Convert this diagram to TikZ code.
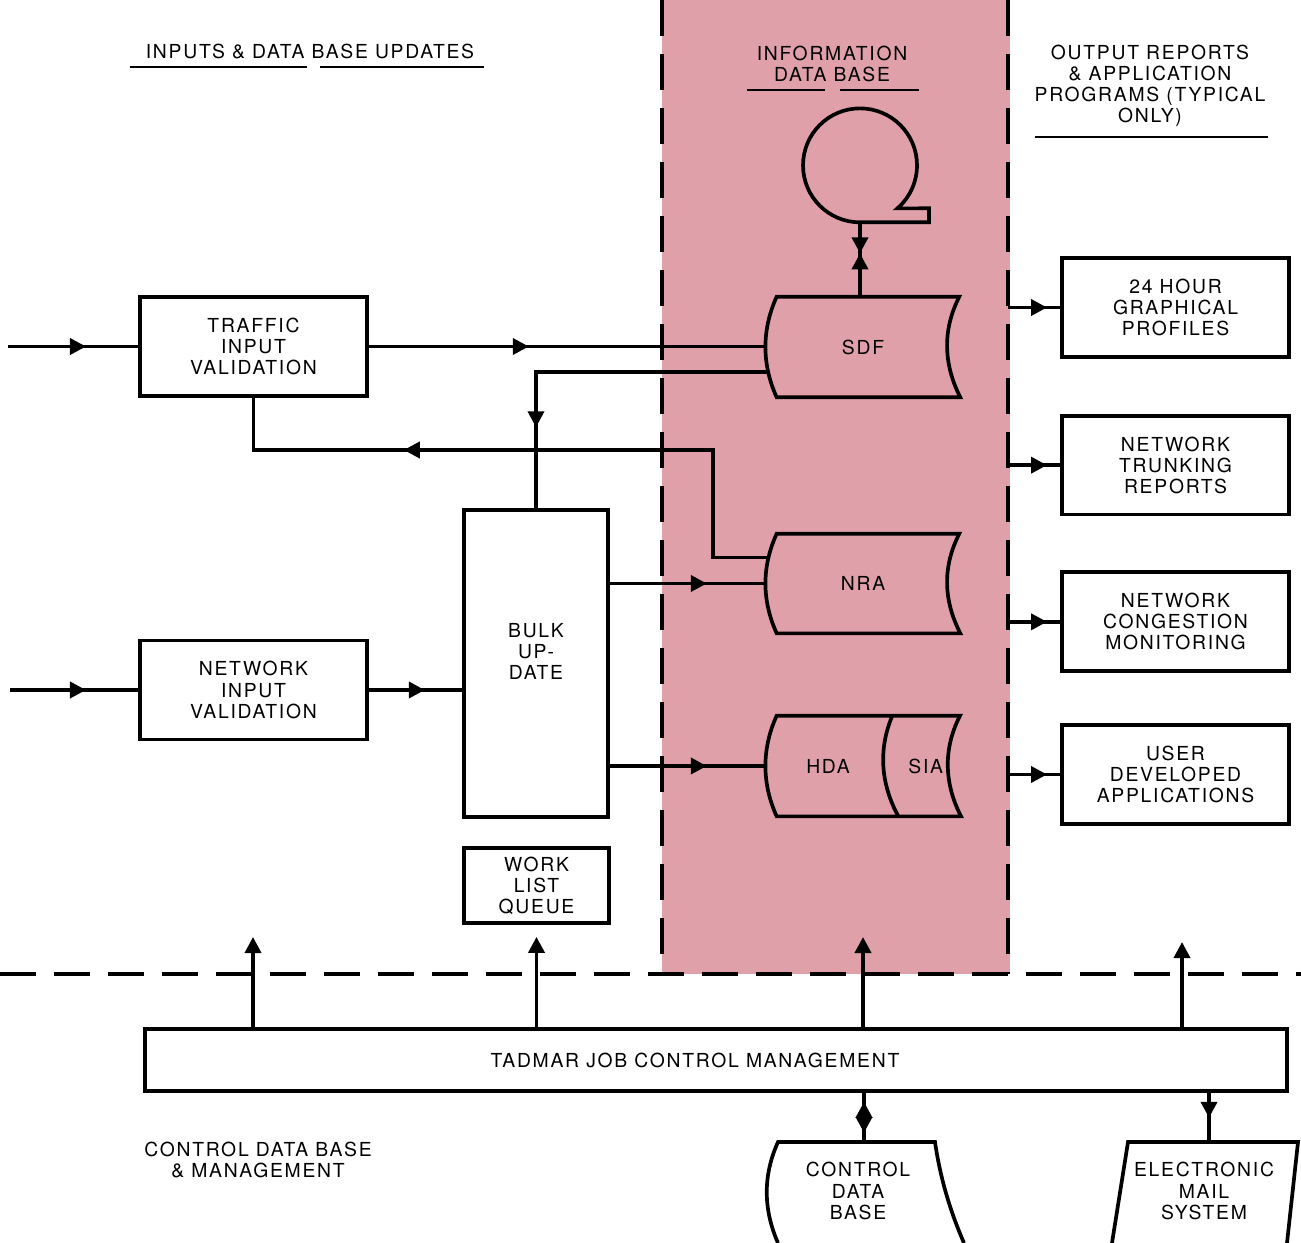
\documentclass[tikz,border=0pt]{standalone}
\usepackage{fontspec}
\setmainfont{TeX Gyre Heros}[LetterSpace=9]
\usepackage{tikz}
\usetikzlibrary{positioning,arrows.meta,calc,decorations.markings}

\definecolor{dbpink}{RGB}{224,160,170}

\tikzset{tri/.tip={Triangle[length=0.32cm,width=0.32cm]}}

% outline of a stored data file, spanning from node #1 (left) to node #2 (right)
\newcommand\datastore[2]{%
  \draw[wire] ($(#1.north west)+(11,0)$) -- ($(#2.north east)+(-1,0)$)
    .. controls ($(#2.north east)+(-18,33)$) and ($(#2.south east)+(-17,-33)$) .. (#2.south east)
    -- ($(#1.south west)+(11,0)$)
    .. controls ($(#1.south west)+(-4,-33)$) and ($(#1.north west)+(-4,33)$) .. cycle;}

\begin{document}
\begin{tikzpicture}[
  x=0.02cm, y=-0.02cm,
  font=\fontsize{11}{12}\selectfont,
  wire/.style={line width=2.1pt},
  uline/.style={line width=1pt},
  box/.style={draw, line width=2.1pt, align=center, inner sep=0pt,
              minimum width=4.54cm, minimum height=1.98cm},
  store/.style={align=center, inner sep=0pt, minimum height=2cm},
  bound/.style={line width=2.8pt, dash pattern=on 0.72cm off 0.36cm},
  midtip/.style={postaction={decorate}, decoration={markings,
                 mark=at position #1 with {\arrow{tri}}}},
  meet/.style={postaction={decorate}, decoration={markings,
               mark=at position #1 with {\arrow{tri}},
               mark=at position #1 with {\arrowreversed{tri}}}},
  apart/.style={postaction={decorate}, decoration={markings,
                mark=at position 0.18cm with {\arrowreversed{tri}},
                mark=at position 0.8cm with {\arrow{tri}}}}
]
  \useasboundingbox (0,0) rectangle (1301,1243);
  \fill[white] (0,0) rectangle (1301,1243);

  % information data base area
  \fill[dbpink] (662,0) rectangle (1010,974);
  \draw[bound] (662,0) -- (662,974);
  \draw[bound] (1008,0) -- (1008,974);
  \draw[bound] (0,974) -- (1301,974);

  % headings
  \node (inhead) at (310,52) {INPUTS \& DATA BASE UPDATES};
  \draw[uline] (130,67) -- (307,67) (320,67) -- (484,67);
  \node[align=center] (idbhead) at (832,64) {INFORMATION\\DATA BASE};
  \draw[uline] (747,90) -- (825,90) (840,90) -- (919,90);
  \node[align=center] (outhead) at (1150,86)
    {OUTPUT REPORTS\\\& APPLICATION\\PROGRAMS (TYPICAL\\ONLY)};
  \draw[uline] (1035,137) -- (1268,137);
  \node[align=center] (cdbhead) at (258,1160) {CONTROL DATA BASE\\\& MANAGEMENT};

  % inputs
  \node[box] (traffic) at (253.5,346.5) {TRAFFIC\\INPUT\\VALIDATION};
  \node[box] (network) at (253.5,690) {NETWORK\\INPUT\\VALIDATION};
  \node[box, minimum width=2.88cm, minimum height=6.14cm,
        label={[align=center, yshift=0.24cm]center:BULK\\UP-\\DATE}] (bulk) at (536,663.5) {};
  \node[box, minimum width=2.9cm, minimum height=1.5cm] (wlq) at (536.5,885.5) {WORK\\LIST\\QUEUE};

  % data base files
  \node[circle, minimum size=2.28cm, inner sep=0pt] (tape) at (860,165) {};
  \draw[wire] (tape.south) arc[start angle=270, end angle=-49, radius=1.14cm]
    -- ($(tape.south)+(69,-14)$) -- ($(tape.south)+(69,0)$) -- cycle;
  \node[store, minimum width=3.88cm] (sdf) at (863,347) {SDF};
  \node[store, minimum width=3.88cm, minimum height=1.98cm] (nra) at (863,583.5) {NRA};
  \node[store, minimum width=2.48cm] (hda) at (828,766) {HDA};
  \node[store, minimum width=1.4cm, right=0pt of hda] (sia) {SIA};
  \datastore{sdf}{sdf}
  \datastore{nra}{nra}
  \datastore{hda}{sia}
  \draw[wire] ($(sia.north west)+(2,0)$) .. controls ($(sia.north west)+(-12,33)$)
    and ($(sia.south west)+(-10,-33)$) .. ($(sia.south west)+(8,0)$);

  % outputs
  \node[box] (prof) at (1175.5,307.5) {24 HOUR\\GRAPHICAL\\PROFILES};
  \node[box, below=1.1cm of prof] (trunk) {NETWORK\\TRUNKING\\REPORTS};
  \node[box, below=1.08cm of trunk] (cong) {NETWORK\\CONGESTION\\MONITORING};
  \node[box, below=1cm of cong] (user) {USER\\DEVELOPED\\APPLICATIONS};

  % job control
  \node[box, minimum width=22.84cm, minimum height=1.24cm] (tadmar) at (716,1060)
    {TADMAR JOB CONTROL MANAGEMENT\hspace{0.84cm}};
  \node[align=center, inner sep=0pt, minimum width=3.9cm, minimum height=2cm] (cdb) at (858,1191)
    {CONTROL\\DATA\\BASE};
  \draw[wire] ($(cdb)+(-80,52)$) .. controls ($(cdb)+(-95,18)$) and ($(cdb)+(-95,-16)$) .. ($(cdb)+(-80,-49)$)
    -- ($(cdb)+(77,-49)$) .. controls ($(cdb)+(82,-14)$) and ($(cdb)+(92,20)$) .. ($(cdb)+(106,52)$);
  \node[align=center, inner sep=0pt, minimum width=3.4cm, minimum height=2cm] (mail) at (1204,1191)
    {ELECTRONIC\\MAIL\\SYSTEM};
  \draw[wire] ($(mail)+(-92,52)$) -- ($(mail)+(-76,-49)$) -- ($(mail)+(94,-49)$) -- ($(mail)+(83,52)$);

  \coordinate (tin) at (8,346.5);
  \coordinate (nin) at (10,690);
  \coordinate (fb) at (713,450);
  \coordinate (rb) at (1008,0);
  \coordinate (u1) at (253,937);
  \coordinate (u3) at (863,937);
  \coordinate (u4) at (1182,942);
  \coordinate (ctop) at ($(cdb)+(6,-49)$);
  \coordinate (mtop) at ($(mail)+(5,-49)$);

  % flows
  \draw[wire, midtip=1.56cm] (tin) -- (traffic.west);
  \draw[wire, midtip=3.2cm] (traffic.east) -- (traffic.east -| sdf.west);
  \draw[wire, midtip=5.76cm] ($(sdf.west)+(3,25)$) -| (bulk.north);
  \draw[wire, midtip=9.45cm] ($(nra.west)+(3,-26)$) -| (fb) -| (traffic.south);
  \draw[wire, midtip=1.52cm] (nin) -- (network.west);
  \draw[wire, midtip=1.12cm] (network.east) -- (network.east -| bulk.west);
  \draw[wire, midtip=1.94cm] (bulk.east |- nra.west) -- (nra.west);
  \draw[wire, midtip=1.94cm] (bulk.east |- hda.west) -- (hda.west);
  \draw[wire, meet=0.62cm] (tape.south) -- (sdf.north -| tape.south);

  \draw[wire, midtip=0.78cm] (rb |- prof.west) -- (prof.west);
  \draw[wire, midtip=0.78cm] (rb |- trunk.west) -- (trunk.west);
  \draw[wire, midtip=0.78cm] (rb |- cong.west) -- (cong.west);
  \draw[wire, midtip=0.78cm] (rb |- user.west) -- (user.west);

  \draw[wire, -{tri}] (tadmar.north -| u1) -- (u1);
  \draw[wire, -{tri}, shorten >=0.24cm] (tadmar.north -| wlq.south) -- (wlq.south);
  \draw[wire, -{tri}] (tadmar.north -| u3) -- (u3);
  \draw[wire, -{tri}] (tadmar.north -| u4) -- (u4);
  \draw[wire, apart] (tadmar.south -| ctop) -- (ctop);
  \draw[wire, midtip=0.5cm] (tadmar.south -| mtop) -- (mtop);
\end{tikzpicture}
\end{document}
